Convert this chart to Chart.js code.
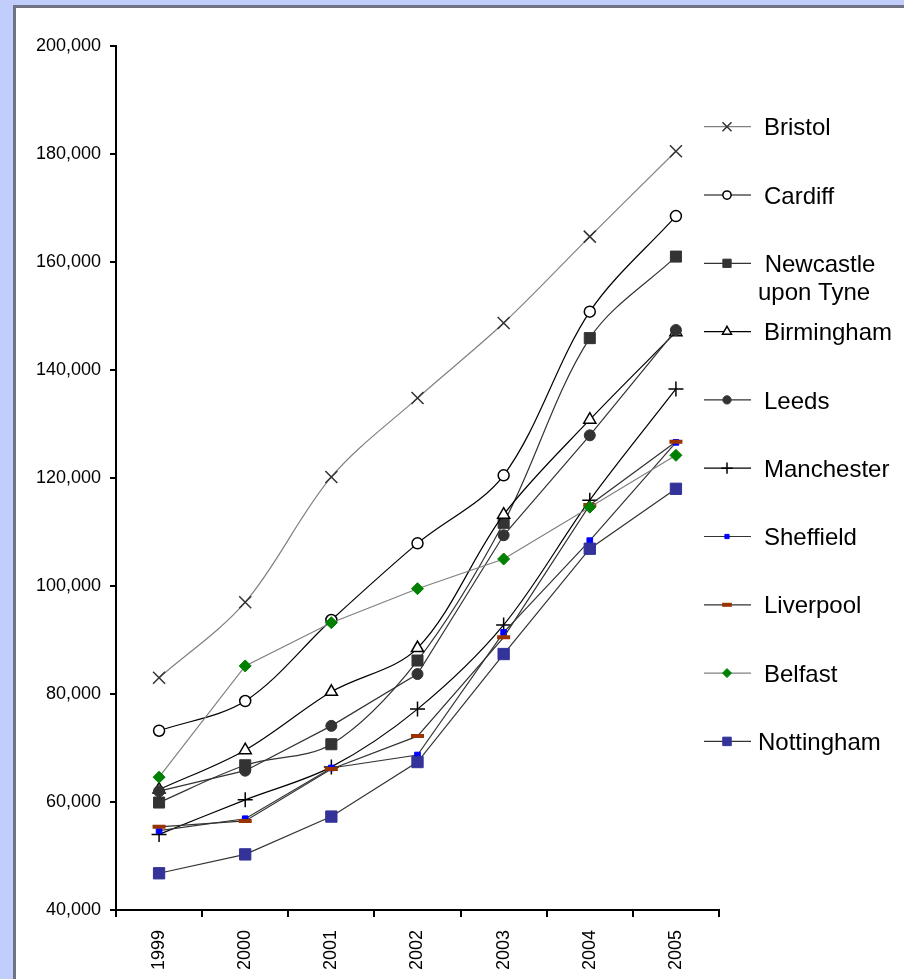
<!DOCTYPE html>
<html>
<head>
<meta charset="utf-8">
<script src="https://cdn.jsdelivr.net/npm/chart.js@4/dist/chart.umd.min.js"></script>
<style>
  html, body { margin: 0; padding: 0; }
  body { width: 904px; height: 979px; background: #c1cdfb; position: relative; overflow: hidden; }
  #panel {
    position: absolute; left: 13px; top: 5px; right: 0; bottom: 0;
    background: #fff;
    border-left: 3px solid #6f7384;
    border-top: 3px solid #6f7384;
  }
  #chart { position: absolute; left: 0; top: 0; }
</style>
</head>
<body>
<div id="panel"></div>
<canvas id="chart" width="904" height="979"></canvas>
<script>
// years along the bottom
const years = ["1999", "2000", "2001", "2002", "2003", "2004", "2005"];
const yTickValues = [40000, 60000, 80000, 100000, 120000, 140000, 160000, 180000, 200000];

const cities = ["Bristol", "Cardiff", "Newcastle upon Tyne", "Birmingham", "Leeds",
  "Manchester", "Sheffield", "Liverpool", "Belfast", "Nottingham"];

const bristol    = [83000, 97000, 120200, 134800, 148700, 164700, 180500];
const cardiff    = [73200, 78700,  93700, 107900, 120500, 150800, 168500];
const newcastle  = [59900, 66800,  70700,  86200, 111700, 145900, 161000];
const birmingham = [62300, 69600,  80400,  88500, 113200, 130800, 147000];
const leeds      = [62000, 65800,  74100,  83700, 109400, 127900, 147400];
const manchester = [54000, 60400,  66500,  77200,  92800, 115900, 136500];
const sheffield  = [54700, 56900,  66300,  68700,  91400, 108400, 126600];
const liverpool  = [55400, 56500,  66100,  72200,  90500, 115000, 126700];
const belfast    = [64600, 85200,  93200,  99500, 105000, 114600, 124200];
const nottingham = [46800, 50300,  57300,  67400,  87400, 106900, 118000];

const seriesData = [bristol, cardiff, newcastle, birmingham, leeds,
  manchester, sheffield, liverpool, belfast, nottingham];

// look of each series: line colour, marker, smoothing
const styles = [
  { line: "#808080", style: "crossRot", r: 8.5, fill: "#333333", edge: "#333333", bw: 1.5, tension: 0.33 },
  { line: "#000000", style: "circle",   r: 5.5, fill: "#ffffff", edge: "#000000", bw: 1.5, tension: 0.33 },
  { line: "#333333", style: "rect",     r: 7.8, fill: "#333333", edge: "#333333", bw: 1,   tension: 0.33 },
  { line: "#000000", style: "triangle", r: 7,   fill: "#ffffff", edge: "#000000", bw: 1.5, tension: 0.33 },
  { line: "#333333", style: "circle",   r: 5.5, fill: "#333333", edge: "#333333", bw: 1,   tension: 0 },
  { line: "#000000", style: "cross",    r: 7.5, fill: "#000000", edge: "#000000", bw: 1.5, tension: 0.33 },
  { line: "#333333", style: "rect",     r: 4,   fill: "#0000ff", edge: "#0000ff", bw: 1,   tension: 0 },
  { line: "#333333", style: "line",     r: 6.5, fill: "#993300", edge: "#993300", bw: 4,   tension: 0 },
  { line: "#808080", style: "rectRot",  r: 6,   fill: "#008000", edge: "#008000", bw: 1,   tension: 0 },
  { line: "#333333", style: "rect",     r: 8,   fill: "#333399", edge: "#333399", bw: 1,   tension: 0 }
];

Chart.defaults.font.family = "'Liberation Sans', Arial, sans-serif";
Chart.defaults.color = "#000";

const datasets = cities.map((name, i) => ({
  label: name,
  data: seriesData[i],
  order: cities.length - i,
  borderColor: styles[i].line,
  borderWidth: 1.2,
  tension: styles[i].tension,
  fill: false,
  pointStyle: styles[i].style,
  pointRadius: styles[i].r,
  pointBackgroundColor: styles[i].fill,
  pointBorderColor: styles[i].edge,
  pointBorderWidth: styles[i].bw
}));

// legend drawn at the right, line + marker + name
const sideLegend = {
  id: "sideLegend",
  afterDraw(chart) {
    const ctx = chart.ctx;
    const lines = [["Bristol"], ["Cardiff"], [" Newcastle", "upon Tyne"], ["Birmingham"], ["Leeds"],
      ["Manchester"], ["Sheffield"], ["Liverpool"], ["Belfast"], ["Nottingham"]];
    const textX = [764, 764, 758, 764, 764, 764, 764, 764, 764, 758];
    ctx.save();
    ctx.font = "24px 'Liberation Sans', Arial, sans-serif";
    ctx.textAlign = "left";
    ctx.textBaseline = "alphabetic";
    lines.forEach((txt, i) => {
      const y = 126.7 + i * 68.3;
      const s = styles[i];
      ctx.strokeStyle = s.line;
      ctx.lineWidth = 1.2;
      ctx.beginPath();
      ctx.moveTo(704, y);
      ctx.lineTo(751, y);
      ctx.stroke();
      ctx.fillStyle = s.fill;
      ctx.strokeStyle = s.edge;
      ctx.lineWidth = s.bw;
      Chart.helpers.drawPoint(ctx, {
        pointStyle: s.style,
        radius: s.r * 0.75,
        rotation: 0,
        borderWidth: s.bw
      }, 727, y);
      ctx.fillStyle = "#000";
      txt.forEach((t, k) => ctx.fillText(t, textX[i], y + 8.6 + k * 28));
    });
    ctx.restore();
  }
};

new Chart(document.getElementById("chart"), {
  type: "line",
  data: { labels: years, datasets: datasets },
  options: {
    responsive: false,
    animation: false,
    devicePixelRatio: 1,
    layout: { padding: { left: 0, top: 46, right: 185, bottom: 0 } },
    plugins: { legend: { display: false }, tooltip: { enabled: false } },
    scales: {
      x: {
        offset: true,
        grid: { offset: true, drawOnChartArea: false, drawTicks: true, tickLength: 7, color: "#000", lineWidth: 2 },
        border: { display: true, color: "#000", width: 2 },
        ticks: { minRotation: 90, maxRotation: 90, autoSkip: false, padding: 13, font: { size: 18 } },
        afterFit(scale) { scale.height = 69; }
      },
      y: {
        min: 40000,
        max: 200000,
        grid: { drawOnChartArea: false, drawTicks: true, tickLength: 6, color: "#000", lineWidth: 2 },
        border: { display: true, color: "#000", width: 2 },
        ticks: {
          padding: 9,
          font: { size: 18 },
          callback: (v) => v.toLocaleString("en-US")
        },
        afterBuildTicks(scale) { scale.ticks = yTickValues.map((v) => ({ value: v })); },
        afterFit(scale) { scale.width = 116; }
      }
    }
  },
  plugins: [sideLegend]
});
</script>
</body>
</html>
